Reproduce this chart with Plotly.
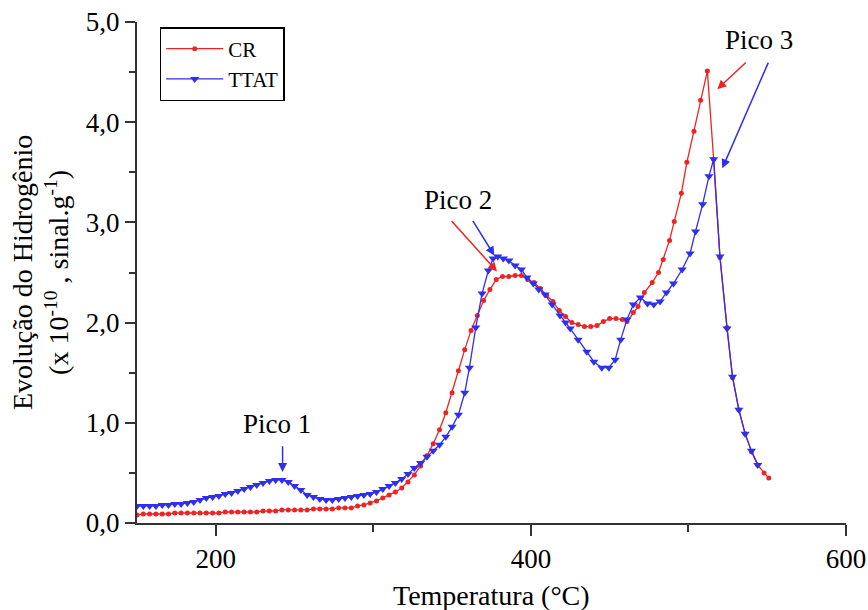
import plotly.graph_objects as go

# ---------------- data ----------------
cr_temp = [150, 154, 158, 162, 166, 170, 174, 178, 182, 186, 190, 194, 198, 202, 206, 210,
           214, 218, 222, 226, 230, 234, 238, 242, 246, 250, 254, 258, 262, 266, 270, 274,
           278, 282, 286, 290, 294, 298, 302, 306, 310, 314, 318, 322, 326, 330, 334, 338,
           342, 346, 350, 354, 358, 362, 366, 370, 374, 378, 382, 386, 390, 394, 398, 402,
           406, 410, 414, 418, 422, 426, 430, 434, 438, 442, 446, 450, 454, 458, 461, 465,
           468, 472, 477, 481, 484, 488, 491, 495.5, 499, 503.5, 507.7, 512, 516, 520, 524.5,
           528, 532, 536, 540, 544, 548, 551]
cr_h2 = [0.08, 0.09, 0.09, 0.09, 0.09, 0.09, 0.10, 0.10, 0.10, 0.10, 0.10, 0.10, 0.10, 0.10, 0.11, 0.11,
         0.11, 0.11, 0.11, 0.11, 0.12, 0.12, 0.12, 0.13, 0.13, 0.13, 0.13, 0.13, 0.14, 0.14, 0.14, 0.14,
         0.15, 0.15, 0.15, 0.17, 0.18, 0.20, 0.22, 0.25, 0.28, 0.31, 0.35, 0.41, 0.48, 0.57, 0.67, 0.79,
         0.93, 1.10, 1.30, 1.52, 1.73, 1.92, 2.07, 2.22, 2.33, 2.43, 2.46, 2.46, 2.47, 2.47, 2.43, 2.40,
         2.34, 2.27, 2.21, 2.12, 2.06, 2.00, 1.98, 1.96, 1.96, 1.97, 2.01, 2.04, 2.04, 2.03, 2.01, 2.10,
         2.16, 2.30, 2.40, 2.50, 2.63, 2.82, 3.01, 3.29, 3.60, 3.91, 4.22, 4.51, 3.63, 2.65, 1.95,
         1.45, 1.13, 0.89, 0.71, 0.58, 0.50, 0.45]

ttat_temp = [150, 154, 158, 162, 166, 170, 174, 178, 182, 186, 190, 194, 198, 202, 206, 210,
             214, 218, 222, 226, 230, 234, 238, 242, 246, 250, 254, 258, 262, 266, 270, 274,
             278, 282, 286, 290, 294, 298, 302, 306, 310, 314, 318, 322, 326, 330, 334, 338,
             342, 346, 350, 354, 358, 361, 365, 369, 373, 376, 379, 382.5, 386, 390, 394, 397.5,
             401.5, 405, 409, 413.5, 418.5, 422, 425, 430, 435.5, 440, 445, 449.5, 453.5, 457, 461,
             465, 469.5, 474, 478, 482, 486, 490.5, 496, 501, 504.5, 509, 513, 516, 520, 524.5,
             528, 532, 536, 540, 544]
ttat_h2 = [0.17, 0.17, 0.17, 0.17, 0.18, 0.18, 0.19, 0.19, 0.20, 0.21, 0.23, 0.25, 0.26, 0.27, 0.29, 0.30,
           0.32, 0.34, 0.36, 0.38, 0.40, 0.42, 0.43, 0.43, 0.41, 0.37, 0.33, 0.28, 0.26, 0.24, 0.23, 0.23,
           0.24, 0.25, 0.26, 0.27, 0.28, 0.29, 0.31, 0.34, 0.37, 0.40, 0.44, 0.49, 0.55, 0.60, 0.66, 0.72,
           0.78, 0.86, 0.96, 1.08, 1.30, 1.55, 1.95, 2.29, 2.52, 2.64, 2.66, 2.64, 2.62, 2.57, 2.53, 2.45,
           2.39, 2.33, 2.28, 2.18, 2.07, 2.00, 1.94, 1.83, 1.71, 1.61, 1.55, 1.55, 1.63, 1.83, 2.03,
           2.18, 2.25, 2.19, 2.18, 2.21, 2.30, 2.39, 2.53, 2.69, 2.91, 3.18, 3.46, 3.63, 2.66, 1.94,
           1.46, 1.13, 0.89, 0.72, 0.58]

x_ticks = [200, 400, 600]
x_ticklabels = ["200", "400", "600"]
y_ticks = [0, 1, 2, 3, 4, 5]
y_ticklabels = ["0,0", "1,0", "2,0", "3,0", "4,0", "5,0"]

# peak labels: (text, x, y)
peak_labels = [("Pico 1", 238.6, 0.99), ("Pico 2", 353.6, 3.22), ("Pico 3", 544.8, 4.82)]
# arrows: (head x, head y, tail x, tail y, color)
RED = "#ee2424"
BLUE = "#2f2fee"
peak_arrows = [
    (242.4, 0.51, 242.4, 0.78, BLUE),
    (378.5, 2.51, 348.8, 3.03, RED),
    (376.8, 2.67, 362.6, 3.03, BLUE),
    (518.3, 4.33, 537.4, 4.61, RED),
    (521.5, 3.54, 551.1, 4.61, BLUE),
]

FONT = "Liberation Serif, Times New Roman, serif"

fig = go.Figure()
fig.add_trace(go.Scatter(
    x=cr_temp, y=cr_h2, mode="lines+markers", name="CR",
    line=dict(color=RED, width=1.3),
    marker=dict(symbol="circle", size=5, color=RED),
))
fig.add_trace(go.Scatter(
    x=ttat_temp, y=ttat_h2, mode="lines+markers", name="TTAT",
    line=dict(color=BLUE, width=1.3),
    marker=dict(symbol="triangle-down", size=8, color=BLUE),
))

for text, x, y in peak_labels:
    fig.add_annotation(x=x, y=y, text=text, showarrow=False,
                       font=dict(family=FONT, size=27, color="black"),
                       xanchor="center", yanchor="middle")
for hx, hy, tx, ty, col in peak_arrows:
    fig.add_annotation(x=hx, y=hy, ax=tx, ay=ty, axref="x", ayref="y",
                       xref="x", yref="y", text="", showarrow=True,
                       arrowhead=2, arrowsize=1.2, arrowwidth=1.5, arrowcolor=col)

# axis titles
fig.add_annotation(xref="paper", yref="paper", x=0.5, y=-0.145,
                   text="Temperatura (°C)", showarrow=False,
                   font=dict(family=FONT, size=28, color="black"),
                   xanchor="center", yanchor="middle")
fig.add_annotation(xref="paper", yref="paper", x=-0.136, y=0.5,
                   text="Evolução do Hidrogênio<br>(x 10<sup>-10</sup> , sinal.g<sup>-1</sup>)",
                   showarrow=False, textangle=-90,
                   font=dict(family=FONT, size=28, color="black"),
                   xanchor="center", yanchor="middle")

fig.update_layout(
    width=868, height=610,
    margin=dict(l=137, r=22, t=22, b=87, autoexpand=False),
    paper_bgcolor="white", plot_bgcolor="white",
    font=dict(family=FONT, size=26, color="black"),
    showlegend=True,
    legend=dict(x=0.032, y=0.99, xanchor="left", yanchor="top",
                bordercolor="black", borderwidth=1.5, bgcolor="white",
                font=dict(family=FONT, size=21, color="black"),
                itemwidth=57, tracegroupgap=0),
    xaxis=dict(range=[150, 600], showgrid=False, zeroline=False, automargin=False,
               showline=True, linecolor="#333", linewidth=2,
               ticks="outside", ticklen=11, tickwidth=2, tickcolor="#333",
               tickvals=x_ticks, ticktext=x_ticklabels,
               minor=dict(ticks="outside", ticklen=7, tickwidth=2, tickcolor="#333", dtick=100, tick0=0),
               tickfont=dict(family=FONT, size=27)),
    yaxis=dict(range=[0, 5], showgrid=False, zeroline=False, automargin=False,
               showline=True, linecolor="#333", linewidth=2,
               ticks="outside", ticklen=10, tickwidth=2, tickcolor="#333",
               tickvals=y_ticks, ticktext=y_ticklabels,
               minor=dict(ticks="outside", ticklen=6, tickwidth=2, tickcolor="#333", dtick=0.5, tick0=0),
               tickfont=dict(family=FONT, size=27)),
)

fig.write_html("out.html")
